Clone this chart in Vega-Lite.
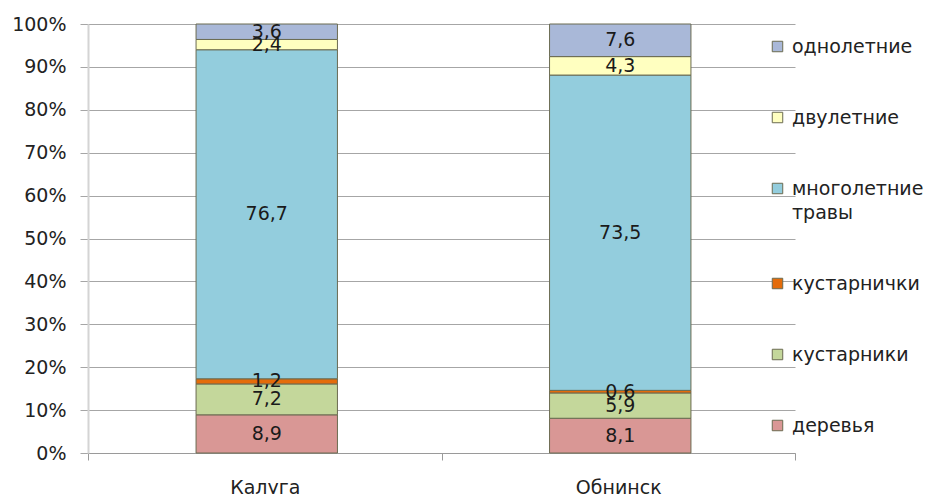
{
  "$schema": "https://vega.github.io/schema/vega-lite/v6.json",
  "width": 707,
  "height": 429,
  "autosize": {"type": "none"},
  "padding": {"left": 88, "top": 24, "right": 139, "bottom": 41},
  "background": "white",
  "config": {
    "view": {"stroke": null},
    "font": "DejaVu Sans",
    "style": {"guide-label": {"lineHeight": 24}},
    "locale": {"number": {"decimal": ",", "thousands": " ", "grouping": [3], "currency": ["", ""]}}
  },
  "data": {
    "values": [
      {"city": "Калуга", "type": "деревья", "value": 8.9},
      {"city": "Калуга", "type": "кустарники", "value": 7.2},
      {"city": "Калуга", "type": "кустарнички", "value": 1.2},
      {"city": "Калуга", "type": "многолетние травы", "value": 76.7},
      {"city": "Калуга", "type": "двулетние", "value": 2.4},
      {"city": "Калуга", "type": "однолетние", "value": 3.6},
      {"city": "Обнинск", "type": "деревья", "value": 8.1},
      {"city": "Обнинск", "type": "кустарники", "value": 5.9},
      {"city": "Обнинск", "type": "кустарнички", "value": 0.6},
      {"city": "Обнинск", "type": "многолетние травы", "value": 73.5},
      {"city": "Обнинск", "type": "двулетние", "value": 4.3},
      {"city": "Обнинск", "type": "однолетние", "value": 7.6}
    ]
  },
  "transform": [
    {"calculate": "indexof(['деревья','кустарники','кустарнички','многолетние травы','двулетние','однолетние'], datum.type)", "as": "ord"},
    {"stack": "value", "groupby": ["city"], "sort": [{"field": "ord", "order": "ascending"}], "as": ["y0", "y1"], "offset": "normalize"},
    {"calculate": "(datum.y0 + datum.y1) / 2", "as": "ymid"}
  ],
  "encoding": {
    "x": {
      "field": "city",
      "type": "nominal",
      "sort": ["Калуга", "Обнинск"],
      "scale": {"paddingInner": 0, "paddingOuter": 0},
      "axis": {
        "title": null,
        "labelAngle": 0,
        "labelFontSize": 19,
        "labelColor": "#222222",
        "labelPadding": 18,
        "tickBand": "extent",
        "tickSize": 7,
        "tickColor": "#9a9a9a",
        "domainColor": "#9a9a9a",
        "grid": false
      }
    }
  },
  "layer": [
    {
      "mark": {"type": "bar", "width": {"band": 0.4}, "xOffset": 2, "stroke": "#6b6b50", "strokeWidth": 1},
      "encoding": {
        "y": {
          "field": "y0",
          "type": "quantitative",
          "scale": {"domain": [0, 1], "nice": false},
          "axis": {
            "title": null,
            "format": ".0%",
            "values": [0, 0.1, 0.2, 0.3, 0.4, 0.5, 0.6, 0.7, 0.8, 0.9, 1],
            "labelFontSize": 19,
            "labelColor": "#222222",
            "labelPadding": 14,
            "tickSize": 8,
            "tickColor": "#a6a6a6",
            "gridColor": "#a6a6a6",
            "domainColor": "#d4d4d4",
            "domainWidth": 2
          }
        },
        "y2": {"field": "y1"},
        "color": {
          "field": "type",
          "type": "nominal",
          "scale": {
            "domain": ["однолетние", "двулетние", "многолетние травы", "кустарнички", "кустарники", "деревья"],
            "range": ["#a9b8d8", "#ffffc0", "#93cddd", "#e46c0a", "#c4d79b", "#d99795"]
          },
          "legend": {
            "title": null,
            "orient": "none",
            "legendX": 680,
            "legendY": 13,
            "symbolType": "square",
            "symbolSize": 110,
            "symbolStrokeColor": "#6b6b50",
            "symbolStrokeWidth": 1,
            "labelFontSize": 19,
            "labelColor": "#222222",
            "labelOffset": 5,
            "labelLimit": 200,
            "rowPadding": 51,
            "labelExpr": "datum.label == 'многолетние травы' ? ['многолетние', 'травы'] : datum.label"
          }
        }
      }
    },
    {
      "mark": {"type": "text", "fontSize": 19, "color": "#1a1a1a", "baseline": "middle", "align": "center", "xOffset": 2},
      "encoding": {
        "y": {"field": "ymid", "type": "quantitative"},
        "text": {"field": "value", "type": "quantitative", "format": ".1f"}
      }
    }
  ]
}
